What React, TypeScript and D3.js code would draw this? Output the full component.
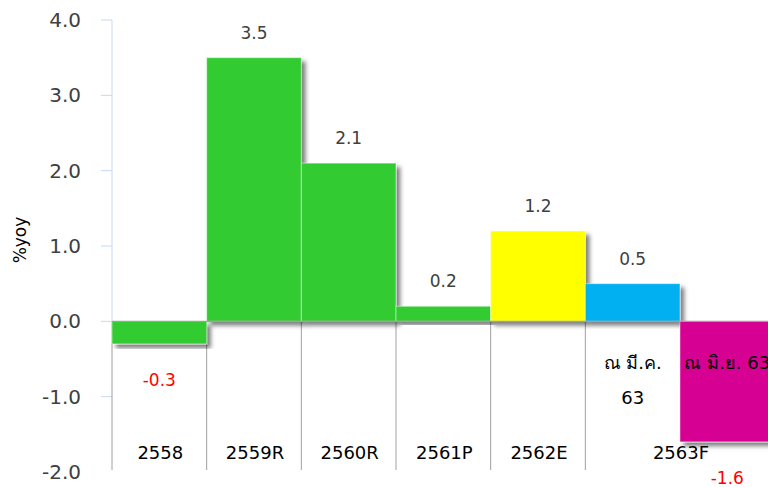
import React from "react";
import * as d3 from "d3";

const categories = ["2558", "2559R", "2560R", "2561P", "2562E", "ณ มี.ค. 63", "ณ มิ.ย. 63"];
const values = [-0.3, 3.5, 2.1, 0.2, 1.2, 0.5, -1.6];
const barColors = ["#33CC33", "#33CC33", "#33CC33", "#33CC33", "#FFFF00", "#00B0F0", "#D60093"];
const valueLabels = ["-0.3", "3.5", "2.1", "0.2", "1.2", "0.5", "-1.6"];
const yTicks = [4, 3, 2, 1, 0, -1, -2];
const groupLabels = [
  { label: "2558", from: 0, to: 0 },
  { label: "2559R", from: 1, to: 1 },
  { label: "2560R", from: 2, to: 2 },
  { label: "2561P", from: 3, to: 3 },
  { label: "2562E", from: 4, to: 4 },
  { label: "2563F", from: 5, to: 6 },
];
const subLabels = [
  { idx: 5, lines: ["ณ มี.ค.", "63"] },
  { idx: 6, lines: ["ณ มิ.ย. 63"] },
];

const W = 768;
const H = 487;
const x0 = 112;
const step = (680 - 112) / 6;

export default function App() {
  const x = d3.scaleBand<string>().domain(categories).range([x0, x0 + step * categories.length]).padding(0);
  const y = d3.scaleLinear().domain([-2, 4]).range([472, 20]);
  const zeroY = y(0);
  const dividers = groupLabels.map((g) => x(categories[g.from]) as number);
  const font = "'DejaVu Sans', 'Noto Sans', sans-serif";

  return (
    <svg width={W} height={H} style={{ position: "absolute", left: 0, top: 0 }}>
      <defs>
        <filter id="sh" x="-10%" y="-10%" width="130%" height="130%">
          <feDropShadow dx="4" dy="4" stdDeviation="2" floodColor="#000" floodOpacity="0.5" />
        </filter>
      </defs>
      <rect x={0} y={0} width={W} height={H} fill="#fff" />
      <line x1={x0} x2={x0} y1={y(4)} y2={zeroY} stroke="#C6D9F1" strokeWidth={1} />
      {yTicks.map((t) => (
        <g key={t}>
          {t > -2 && <line x1={x0 - 11} x2={x0} y1={y(t)} y2={y(t)} stroke="#C6D9F1" strokeWidth={1} />}
          <text x={81} y={y(t) + 7} textAnchor="end" fontFamily={font} fontSize={20} fill="#404040">
            {t.toFixed(1)}
          </text>
        </g>
      ))}
      <text
        transform={`translate(${26},${240}) rotate(-90)`}
        textAnchor="middle"
        fontFamily={font}
        fontSize={17}
        fill="#000"
      >
        %yoy
      </text>
      {dividers.map((d, i) => (
        <line key={i} x1={d} x2={d} y1={zeroY} y2={470} stroke="#A0A0A0" strokeWidth={1} />
      ))}
      {categories.map((c, i) => {
        const v = values[i];
        const top = v >= 0 ? y(v) : zeroY;
        const h = Math.abs(y(v) - zeroY);
        return (
          <rect
            key={c}
            x={x(c) as number}
            y={top}
            width={x.bandwidth()}
            height={h}
            fill={barColors[i]}
            stroke="rgba(255,255,255,0.45)"
            strokeWidth={1}
            filter="url(#sh)"
          />
        );
      })}
      <line x1={x0} x2={W} y1={zeroY} y2={zeroY} stroke="#A0A0A0" strokeWidth={1.2} />
      {categories.map((c, i) => {
        const v = values[i];
        const cx = (x(c) as number) + x.bandwidth() / 2;
        const ty = v >= 0 ? y(v) - 19 : y(v) + 42;
        return (
          <text key={c} x={cx} y={ty} textAnchor="middle" fontFamily={font} fontSize={17} fill={v >= 0 ? "#404040" : "#FF0000"}>
            {valueLabels[i]}
          </text>
        );
      })}
      {subLabels.map((s) => {
        const cx = (x(categories[s.idx]) as number) + x.bandwidth() / 2;
        return s.lines.map((ln, k) => (
          <text key={s.idx + "-" + k} x={cx} y={369 + k * 35} textAnchor="middle" fontFamily={font} fontSize={18} fill="#000">
            {ln}
          </text>
        ));
      })}
      {groupLabels.map((g) => {
        const a = x(categories[g.from]) as number;
        const b = (x(categories[g.to]) as number) + x.bandwidth();
        return (
          <text key={g.label} x={(a + b) / 2 + 1} y={459} textAnchor="middle" fontFamily={font} fontSize={18} fill="#000">
            {g.label}
          </text>
        );
      })}
    </svg>
  );
}
